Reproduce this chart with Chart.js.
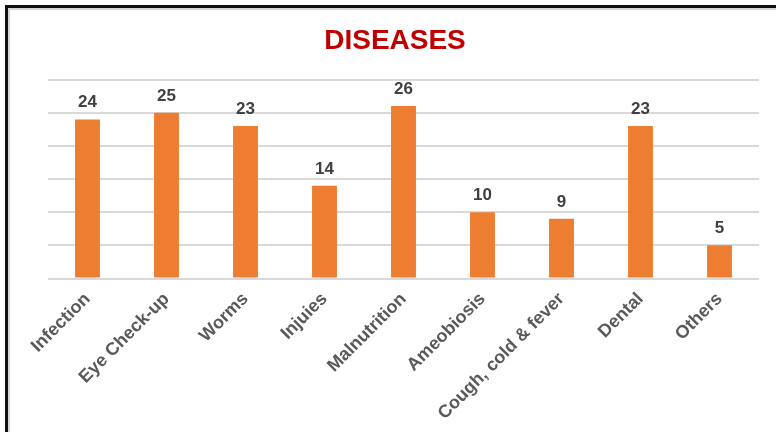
<!DOCTYPE html>
<html>
<head>
<meta charset="utf-8">
<script src="https://cdn.jsdelivr.net/npm/chart.js@4/dist/chart.umd.min.js"></script>
<style>
  html, body { margin: 0; padding: 0; background: #fff; }
  #wrap { position: absolute; left: 0; top: 0; width: 776px; height: 432px; }
  #frame { position: absolute; left: 5px; top: 5px; width: 800px; height: 460px;
           border-left: 3px solid #111; border-top: 3px solid #111; pointer-events: none; }
  #inner { position: absolute; left: 8px; top: 8px; width: 800px; height: 460px;
           border-left: 2px solid #d6d6d6; border-top: 2px solid #d6d6d6; pointer-events: none; }
</style>
</head>
<body>
<div id="wrap"><canvas id="c" width="776" height="432"></canvas></div>
<div id="frame"></div>
<div id="inner"></div>
<script>
const categories = ["Infection", "Eye Check-up", "Worms", "Injuies", "Malnutrition", "Ameobiosis", "Cough, cold & fever", "Dental", "Others"];
const values = [24, 25, 23, 14, 26, 10, 9, 23, 5];
const titleText = "DISEASES";

const valueLabels = {
  id: 'valueLabels',
  afterDatasetsDraw(chart) {
    const ctx = chart.ctx;
    const meta = chart.getDatasetMeta(0);
    ctx.save();
    ctx.font = 'bold 17px "Liberation Sans", Arial, sans-serif';
    ctx.fillStyle = '#404040';
    ctx.textAlign = 'center';
    ctx.textBaseline = 'alphabetic';
    meta.data.forEach((bar, i) => {
      ctx.fillText(String(values[i]), bar.x, bar.y - 12);
    });
    ctx.restore();
  }
};

const chartTitle = {
  id: 'chartTitle',
  afterDraw(chart) {
    const ctx = chart.ctx;
    ctx.save();
    ctx.font = 'bold 28px "Liberation Sans", Arial, sans-serif';
    ctx.fillStyle = '#C00000';
    ctx.textAlign = 'center';
    ctx.textBaseline = 'alphabetic';
    ctx.fillText(titleText, 395, 49);
    ctx.restore();
  }
};

new Chart(document.getElementById('c'), {
  type: 'bar',
  data: {
    labels: categories,
    datasets: [{
      data: values,
      backgroundColor: '#ED7D31',
      borderWidth: 0,
      barPercentage: 0.5,
      categoryPercentage: 0.63
    }]
  },
  options: {
    responsive: false,
    animation: false,
    devicePixelRatio: 1,
    layout: { padding: { left: 48, right: 17, top: 79.6, bottom: 6 } },
    plugins: {
      legend: { display: false },
      tooltip: { enabled: false },
      title: { display: false }
    },
    scales: {
      x: {
        grid: { display: false },
        border: { display: false },
        ticks: {
          color: '#595959',
          font: { family: '"Liberation Sans", Arial, sans-serif', size: 18, weight: 'bold' },
          maxRotation: 45,
          minRotation: 45,
          padding: 2
        }
      },
      y: {
        min: 0,
        max: 30,
        ticks: { display: false, stepSize: 5 },
        border: { display: false },
        grid: { color: '#d9d9d9', lineWidth: 2, drawTicks: false }
      }
    }
  },
  plugins: [valueLabels, chartTitle]
});
</script>
</body>
</html>
